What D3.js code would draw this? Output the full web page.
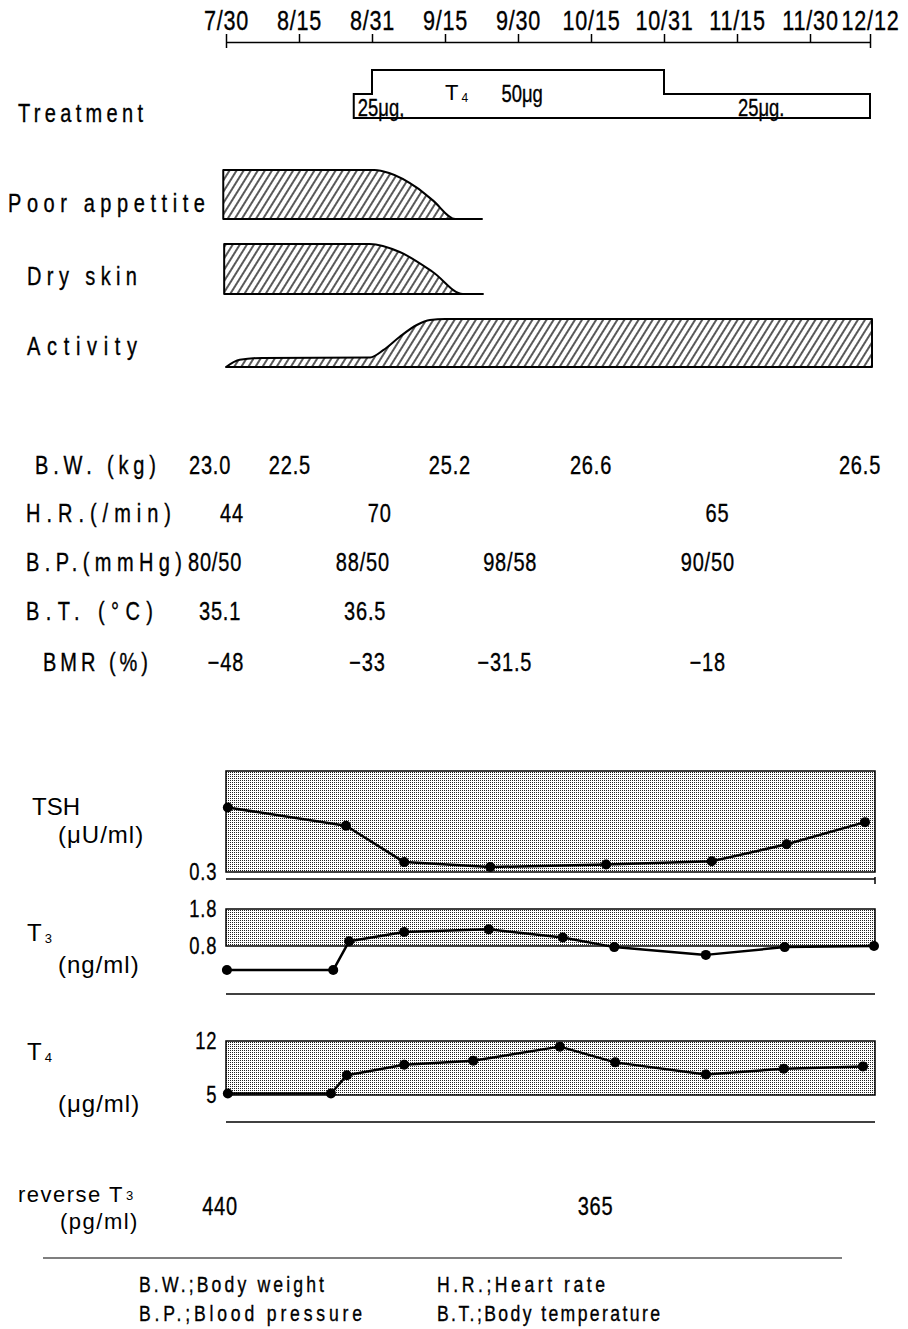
<!DOCTYPE html>
<html>
<head>
<meta charset="utf-8">
<script src="https://cdn.jsdelivr.net/npm/d3@7"></script>
<style>
  body { margin: 0; background: #fff; }
  text { fill: #000; }
</style>
</head>
<body>
<script>
// days counted from 7/30
const tickDays   = [0, 16, 32, 47, 62, 77, 93, 108, 123, 135];
const tickLabels = ["7/30", "8/15", "8/31", "9/15", "9/30", "10/15", "10/31", "11/15", "11/30", "12/12"];

// T4 replacement, ug/day
const doseDays   = [28, 32, 93, 135];
const doseValues = [25, 50, 25, 25];

// symptom grade 0..1, [day, level]
const appetite = [[-0.6, 1], [32.5, 1], [35.5, 0.94], [41.2, 0.64], [44.5, 0.38], [49.1, 0], [54.6, 0]];
const drySkin  = [[-0.4, 1], [31.5, 1], [37.7, 0.84], [44.5, 0.44], [50.7, 0], [54.8, 0]];
const activity = [[0, 0], [3, 0.15], [8, 0.19], [31.6, 0.2], [34.3, 0.35], [37.7, 0.63], [41.2, 0.875], [43.9, 0.98], [47, 1], [135.4, 1]];

// vital signs, text placed under the day it was taken
const bwDays  = [-3.5, 14, 48, 77, 133];  const bwValues  = ["23.0", "22.5", "25.2", "26.6", "26.5"];
const hrDays  = [1.3, 33.6, 104];         const hrValues  = ["44", "70", "65"];
const bpDays  = [-2.4, 30, 60.4, 102];    const bpValues  = ["80/50", "88/50", "98/58", "90/50"];
const btDays  = [-1.3, 30.5];             const btValues  = ["35.1", "36.5"];
const bmrDays = [0, 31, 59.3, 102];       const bmrValues = ["\u221248", "\u221233", "\u221231.5", "\u221218"];

// thyroid tests
const tshDays   = [0.4, 26.3, 38.6, 56.3, 80.3, 102.8, 118.2, 134];
const tshValues = [3.3, 2.45, 0.76, 0.53, 0.65, 0.8, 1.59, 2.62];
const t3Days    = [0.2, 23.5, 27, 38.6, 56, 71.2, 82.1, 101.6, 117.8, 135.8];
const t3Values  = [0.15, 0.15, 0.93, 1.18, 1.25, 1.03, 0.77, 0.56, 0.77, 0.8];
const t4Days    = [0.4, 23, 26.5, 38.6, 52.8, 70.6, 82.3, 101.6, 117.6, 133.6];
const t4Values  = [5.2, 5.2, 7.56, 8.93, 9.44, 11.27, 9.23, 7.65, 8.41, 8.71];
const rT3Days   = [-1.3, 78];
const rT3Values = ["440", "365"];

// no narrow face installed: squeeze Liberation Sans instead
const FC = "'Liberation Sans',Arial,sans-serif";
const FS = "'Liberation Sans',Arial,sans-serif";
const SQ = 0.8;

const svg = d3.select("body").append("svg")
    .attr("width", 908)
    .attr("height", 1329);

// ticks in the original are spaced evenly per half month
const x = d3.scaleLinear()
    .domain(tickDays)
    .range(tickDays.map((d, i) => i < tickDays.length - 1 ? 226 + 73 * i : 870));

const defs = svg.append("defs");
defs.append("pattern")
    .attr("id", "hatch")
    .attr("patternUnits", "userSpaceOnUse")
    .attr("width", 6).attr("height", 10)
    .attr("patternTransform", "rotate(32)")
  .append("line")
    .attr("x1", 3).attr("y1", -1).attr("x2", 3).attr("y2", 11)
    .attr("stroke", "#000").attr("stroke-width", 1.3);
const dots = defs.append("pattern")
    .attr("id", "dots")
    .attr("patternUnits", "userSpaceOnUse")
    .attr("width", 2).attr("height", 2);
dots.append("rect").attr("width", 2).attr("height", 2).attr("fill", "#fff");
dots.append("rect").attr("width", 1).attr("height", 1).attr("fill", "#222");

function txt(t, px, py, font, size, anchor) {
  return svg.append("text")
      .attr("x", px).attr("y", py)
      .attr("font-family", font)
      .attr("font-size", size)
      .attr("text-anchor", anchor || "start")
      .text(t);
}
// condensed text, optional fixed width w
function ctxt(t, px, py, size, anchor, w) {
  const el = svg.append("text")
      .attr("transform", `translate(${px},${py}) scale(${SQ},1)`)
      .attr("font-family", FC)
      .attr("font-size", size)
      .attr("text-anchor", anchor || "start")
      .attr("stroke", "#000").attr("stroke-width", 0.35)
      .text(t);
  if (w) el.attr("textLength", w / SQ).attr("lengthAdjust", "spacing");
  return el;
}

// date axis
const axisG = svg.append("g")
    .attr("transform", "translate(0,42)")
    .call(d3.axisTop(x)
      .tickValues(tickDays)
      .tickFormat((d, i) => tickLabels[i])
      .tickSize(8)
      .tickSizeOuter(0)
      .tickPadding(4));
axisG.select(".domain").attr("stroke-width", 1.5);
axisG.selectAll(".tick line").attr("stroke-width", 1.5)
    .filter((d, i, n) => i === 0 || i === n.length - 1).attr("y1", 6);
axisG.selectAll(".tick text")
    .attr("font-family", FC).attr("font-size", 27).attr("fill", "#000")
    .attr("stroke", "#000").attr("stroke-width", 0.35)
    .attr("letter-spacing", 1)
    .attr("transform", `scale(${SQ},1)`);

// treatment
const yDose = d3.scaleLinear().domain([0, 50]).range([118, 70]);
const doseArea = d3.area()
    .curve(d3.curveStepAfter)
    .x(d => x(d[0]))
    .y0(yDose(0))
    .y1(d => yDose(d[1]));
svg.append("path")
    .datum(doseDays.map((d, i) => [d, doseValues[i]]))
    .attr("d", doseArea)
    .attr("fill", "none")
    .attr("stroke", "#000")
    .attr("stroke-width", 2);

ctxt("25\u03bcg,", x(28.9), 116, 23);
ctxt("50\u03bcg", x(58.6), 102, 23);
ctxt("25\u03bcg.", x(108.2), 116, 23);
const t4lab = txt("T", x(47), 100, FS, 22);
t4lab.append("tspan").attr("font-size", 12).attr("dx", 3).attr("dy", 2).text("4");

// symptoms
const bands = [
  {data: appetite, bottom: 219, top: 170},
  {data: drySkin,  bottom: 294, top: 244},
  {data: activity, bottom: 367, top: 319}
];
bands.forEach(b => {
  const y = d3.scaleLinear().domain([0, 1]).range([b.bottom, b.top]);
  const area = d3.area()
      .curve(d3.curveMonotoneX)
      .x(d => x(d[0]))
      .y0(b.bottom)
      .y1(d => y(d[1]));
  svg.append("path")
      .datum(b.data)
      .attr("d", area)
      .attr("fill", "url(#hatch)")
      .attr("stroke", "#000")
      .attr("stroke-width", 2)
      .attr("stroke-linejoin", "round");
});

// row labels (spaced out like the typewriter original)
const rowLabels = [
  {t: "Treatment",      x: 18, y: 122, w: 125},
  {t: "Poor appettite", x: 8,  y: 212, w: 197},
  {t: "Dry skin",       x: 27, y: 285, w: 110},
  {t: "Activity",       x: 27, y: 355, w: 110},
  {t: "B.W. (kg)",      x: 35, y: 474, w: 121},
  {t: "H.R.(/min)",     x: 26, y: 522, w: 145},
  {t: "B.P.(mmHg)",     x: 26, y: 571, w: 156},
  {t: "B.T. (\u00b0C)", x: 26, y: 620, w: 127},
  {t: "BMR (%)",        x: 43, y: 671, w: 105}
];
rowLabels.forEach(r => ctxt(r.t, r.x, r.y, 25, "start", r.w));

// vital sign values
const rows = [
  {days: bwDays,  vals: bwValues,  y: 474},
  {days: hrDays,  vals: hrValues,  y: 522},
  {days: bpDays,  vals: bpValues,  y: 571},
  {days: btDays,  vals: btValues,  y: 620},
  {days: bmrDays, vals: bmrValues, y: 671}
];
rows.forEach(r => {
  r.days.forEach((d, i) => ctxt(r.vals[i], x(d), r.y, 25, "middle").attr("letter-spacing", 1));
});

// hormone panels
const panels = [
  {days: tshDays, vals: tshValues, range: [0.3, 5.0], ticks: [0.3],     top: 771,  bottom: 872,  base: 879},
  {days: t3Days,  vals: t3Values,  range: [0.8, 1.8], ticks: [0.8, 1.8], top: 909,  bottom: 946,  base: 994},
  {days: t4Days,  vals: t4Values,  range: [5, 12],    ticks: [5, 12],    top: 1041, bottom: 1095, base: 1122}
];
const x0 = x(0), x1 = x(136);
panels.forEach(p => {
  const y = d3.scaleLinear().domain(p.range).range([p.bottom, p.top]);
  svg.append("rect")
      .attr("x", x0).attr("y", p.top)
      .attr("width", x1 - x0).attr("height", p.bottom - p.top)
      .attr("fill", "url(#dots)")
      .attr("stroke", "#000").attr("stroke-width", 1.5);
  svg.append("line")
      .attr("x1", x0).attr("x2", x1)
      .attr("y1", p.base).attr("y2", p.base)
      .attr("stroke", "#000").attr("stroke-width", 1.5);
  const ax = svg.append("g")
      .attr("transform", `translate(${x0},0)`)
      .call(d3.axisLeft(y).tickValues(p.ticks).tickSize(0).tickPadding(11).tickFormat(d => String(d)));
  ax.select(".domain").remove();
  ax.selectAll("text")
      .attr("font-family", FC).attr("font-size", 23).attr("fill", "#000")
      .attr("stroke", "#000").attr("stroke-width", 0.3)
      .attr("letter-spacing", 1)
      .attr("transform", `scale(${SQ},1)`);

  const pts = p.days.map((d, i) => [d, p.vals[i]]);
  svg.append("path")
      .datum(pts)
      .attr("d", d3.line().x(d => x(d[0])).y(d => y(d[1])))
      .attr("fill", "none")
      .attr("stroke", "#000")
      .attr("stroke-width", 2.5)
      .attr("stroke-linejoin", "round");
  svg.selectAll(null)
      .data(pts)
      .enter().append("circle")
      .attr("cx", d => x(d[0]))
      .attr("cy", d => y(d[1]))
      .attr("r", 5)
      .attr("fill", "#000");
});
// small end tick under the TSH base line
svg.append("line")
    .attr("x1", x1).attr("x2", x1).attr("y1", 877).attr("y2", 884)
    .attr("stroke", "#000").attr("stroke-width", 1.5);

// hormone labels
txt("TSH", 32, 815, FS, 24);
txt("(\u03bcU/ml)", 58, 843, FS, 24).attr("letter-spacing", 1);
const t3lab = txt("T", 27, 941, FS, 24);
t3lab.append("tspan").attr("font-size", 13).attr("dx", 3).attr("dy", 2).text("3");
txt("(ng/ml)", 58, 973, FS, 24).attr("letter-spacing", 1);
const t4lab2 = txt("T", 27, 1060, FS, 24);
t4lab2.append("tspan").attr("font-size", 13).attr("dx", 3).attr("dy", 2).text("4");
txt("(\u03bcg/ml)", 58, 1112, FS, 24).attr("letter-spacing", 1);
const rlab = txt("reverse T", 18, 1202, FS, 22).attr("letter-spacing", 1.5);
rlab.append("tspan").attr("font-size", 13).attr("dx", 2).attr("dy", -2).text("3");
txt("(pg/ml)", 60, 1229, FS, 22).attr("letter-spacing", 1.5);

rT3Days.forEach((d, i) => ctxt(rT3Values[i], x(d), 1215, 25, "middle").attr("letter-spacing", 1));

// abbreviations
svg.append("line")
    .attr("x1", 43).attr("x2", 842).attr("y1", 1258).attr("y2", 1258)
    .attr("stroke", "#000").attr("stroke-width", 1.2);
const notes = [
  {t: "B.W.;Body weight",      x: 139, y: 1292, w: 185},
  {t: "H.R.;Heart rate",       x: 437, y: 1292, w: 168},
  {t: "B.P.;Blood pressure",   x: 139, y: 1321, w: 223},
  {t: "B.T.;Body temperature", x: 437, y: 1321, w: 223}
];
notes.forEach(n => ctxt(n.t, n.x, n.y, 22, "start", n.w));
</script>
</body>
</html>
